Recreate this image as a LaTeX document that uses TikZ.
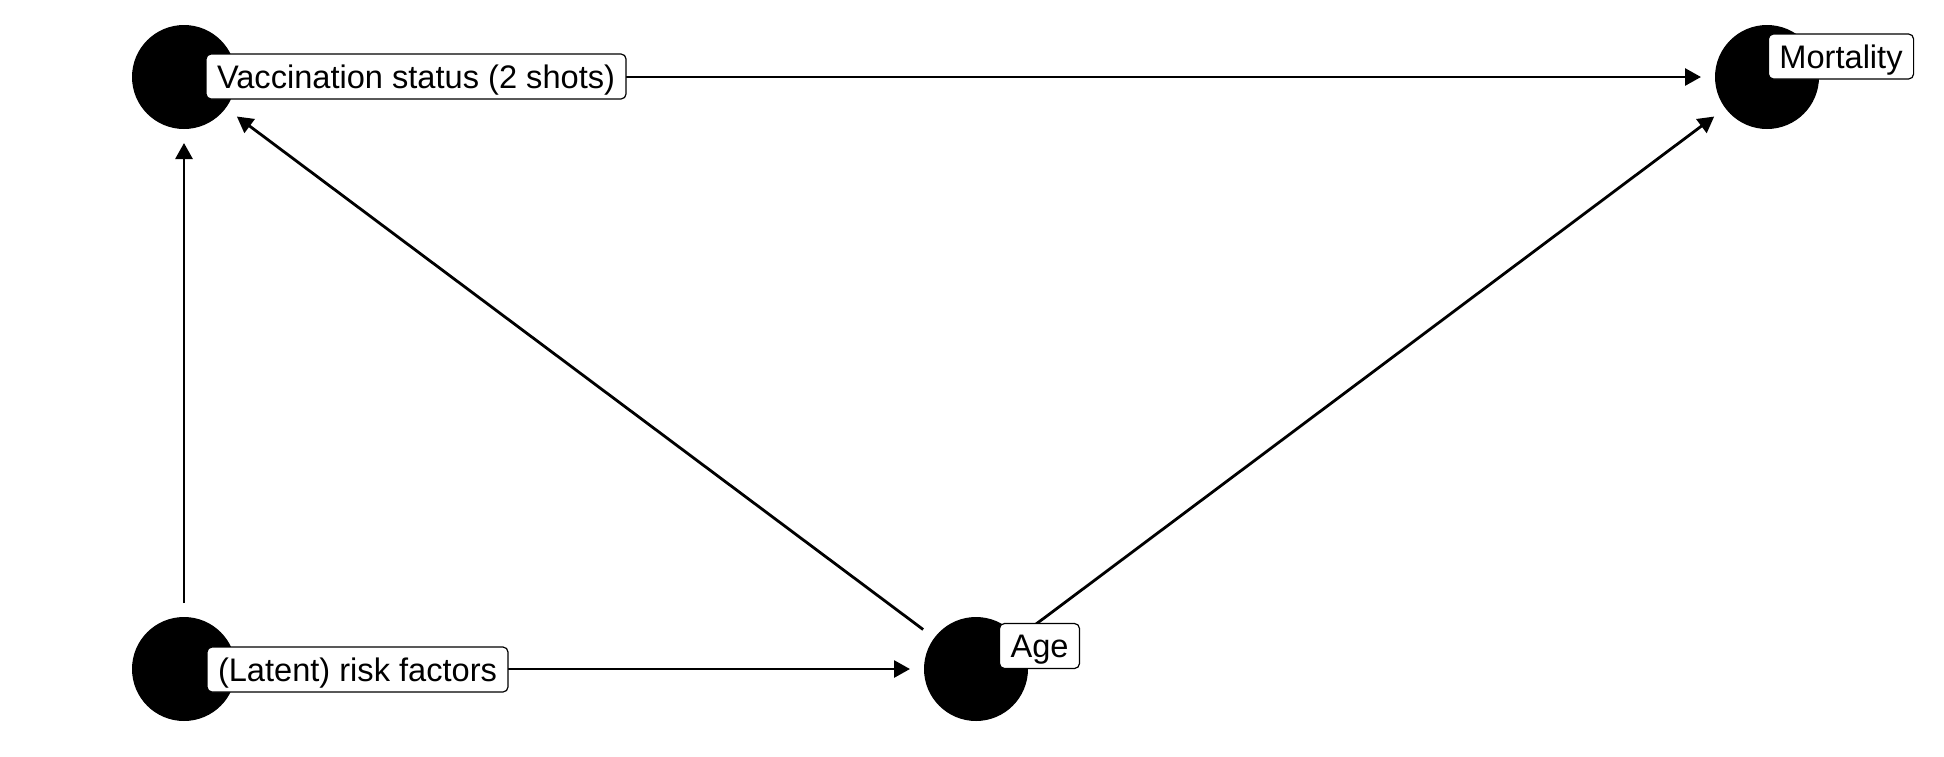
\documentclass[tikz,border=0pt]{standalone}
\usepackage{fontspec}
\setmainfont{Liberation Sans}
\usetikzlibrary{arrows.meta}
\tikzset{
  dagnode/.style={circle, fill=black, draw=none, minimum size=52pt, inner sep=0pt, outer sep=0pt},
  edge/.style={line width=1.4pt, -{Triangle[length=8pt,width=8.5pt]}, shorten >=7pt, shorten <=7pt},
  lab/.style={draw=black, line width=0.6pt, fill=white, rounded corners=2.5pt,
    font=\fontsize{16.3pt}{19pt}\selectfont, text height=11.7pt, text depth=0pt,
    inner xsep=5.5pt, inner ysep=5.4pt, outer sep=0pt}
}
\begin{document}
\begin{tikzpicture}[x=0.5pt, y=-0.5pt]
\useasboundingbox (0,0) rectangle (1944,756);
\node[dagnode] (v) at (184,77) {};
\node[dagnode] (m) at (1767,77) {};
\node[dagnode] (l) at (184,669) {};
\node[dagnode] (a) at (976,669) {};
\draw[edge] (v) -- (m);
\draw[edge] (l) -- (v);
\draw[edge] (l) -- (a);
\draw[edge] (a) -- (v);
\draw[edge] (a) -- (m);
\node[lab, anchor=west] (vlab) at (206,76.5) {Vaccination status (2 shots)};
\node[lab] (mlab) at (1841,56.5) {Mortality};
\node[lab, anchor=west] (llab) at (207,669.5) {(Latent) risk factors};
\node[lab] (alab) at (1039.5,646) {Age};
\end{tikzpicture}
\end{document}
